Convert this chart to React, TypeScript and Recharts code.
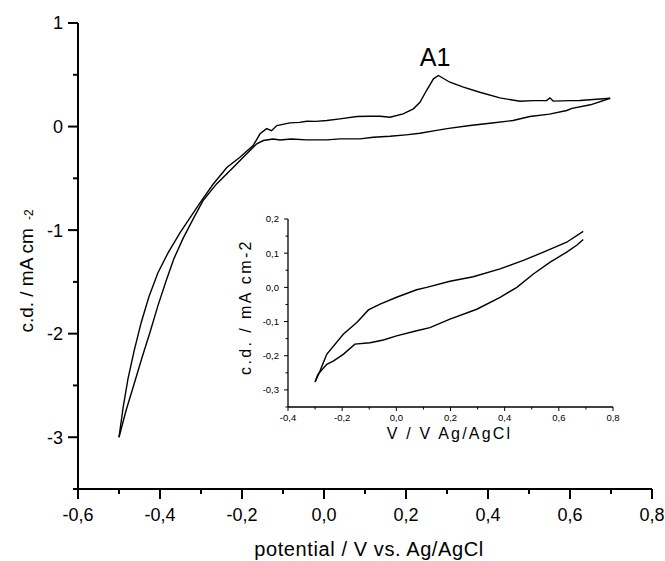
import { LineChart, Line, XAxis, YAxis, Label, ReferenceDot } from "recharts";

const FONT = '"Liberation Sans", Arial, Helvetica, sans-serif';

// main voltammogram, potential (V) vs current density (mA cm-2)
const anodicSweep: [number, number][] = [
  [-0.5, -3.0], [-0.49, -2.715], [-0.478, -2.435], [-0.463, -2.164], [-0.446, -1.894],
  [-0.427, -1.643], [-0.405, -1.411], [-0.38, -1.217], [-0.351, -1.024], [-0.32, -0.841],
  [-0.302, -0.734], [-0.271, -0.56], [-0.237, -0.396], [-0.205, -0.297], [-0.173, -0.184],
  [-0.156, -0.07], [-0.14, -0.02], [-0.128, -0.04], [-0.115, 0.01], [-0.083, 0.036],
  [-0.06, 0.04], [-0.042, 0.051], [-0.02, 0.05], [0.007, 0.058], [0.039, 0.074],
  [0.08, 0.097], [0.11, 0.1], [0.137, 0.1], [0.161, 0.09], [0.193, 0.123],
  [0.218, 0.171], [0.234, 0.235], [0.25, 0.348], [0.267, 0.461], [0.279, 0.493],
  [0.307, 0.428], [0.34, 0.38], [0.38, 0.331], [0.429, 0.277], [0.478, 0.244],
  [0.51, 0.25], [0.543, 0.251], [0.551, 0.277], [0.559, 0.246], [0.6, 0.25],
  [0.624, 0.251], [0.698, 0.273],
];

const cathodicSweep: [number, number][] = [
  [0.698, 0.273], [0.65, 0.21], [0.605, 0.175], [0.592, 0.155], [0.55, 0.12],
  [0.502, 0.097], [0.461, 0.058], [0.41, 0.035], [0.356, 0.01], [0.3, -0.02],
  [0.271, -0.039], [0.234, -0.065], [0.2, -0.08], [0.161, -0.094], [0.12, -0.103],
  [0.088, -0.119], [0.039, -0.119], [0.007, -0.129], [-0.042, -0.129], [-0.08, -0.12],
  [-0.107, -0.13], [-0.124, -0.12], [-0.148, -0.135], [-0.164, -0.167], [-0.189, -0.264],
  [-0.221, -0.393], [-0.262, -0.554], [-0.295, -0.715], [-0.32, -0.899], [-0.344, -1.082],
  [-0.366, -1.275], [-0.385, -1.488], [-0.405, -1.729], [-0.424, -1.981], [-0.444, -2.232],
  [-0.463, -2.483], [-0.483, -2.744], [-0.5, -3.0],
];

// inset voltammogram
const insetAnodic: [number, number][] = [
  [-0.3, -0.277], [-0.282, -0.245], [-0.257, -0.196], [-0.196, -0.137], [-0.146, -0.103],
  [-0.103, -0.066], [-0.06, -0.049], [0.001, -0.029], [0.075, -0.007], [0.112, 0.0],
  [0.198, 0.018], [0.284, 0.031], [0.383, 0.054], [0.469, 0.079], [0.543, 0.103],
  [0.629, 0.132], [0.69, 0.164],
];

const insetCathodic: [number, number][] = [
  [0.69, 0.14], [0.666, 0.123], [0.629, 0.103], [0.568, 0.074], [0.506, 0.039],
  [0.445, 0.0], [0.383, -0.029], [0.297, -0.064], [0.198, -0.093], [0.124, -0.118],
  [0.075, -0.127], [0.001, -0.142], [-0.048, -0.154], [-0.097, -0.162], [-0.153, -0.166],
  [-0.196, -0.196], [-0.233, -0.216], [-0.257, -0.225], [-0.29, -0.255], [-0.3, -0.277],
];

const mainXTicks = [-0.6, -0.5, -0.4, -0.3, -0.2, -0.1, 0, 0.1, 0.2, 0.3, 0.4, 0.5, 0.6, 0.7, 0.8];
const mainYTicks = [-3.5, -3, -2.5, -2, -1.5, -1, -0.5, 0, 0.5, 1];
const insetXTicks = [-0.4, -0.3, -0.2, -0.1, 0, 0.1, 0.2, 0.3, 0.4, 0.5, 0.6, 0.7, 0.8];
const insetYTicks = [-0.35, -0.3, -0.25, -0.2, -0.15, -0.1, -0.05, 0, 0.05, 0.1, 0.15, 0.2];

const peakLabel = { x: 0.271, y: 0.493, text: "A1" };

const toPts = (arr: [number, number][]) => arr.map(([x, y]) => ({ x, y }));

const comma = (v: number) => v.toFixed(1).replace(".", ",");
const evenTenth = (v: number) => Math.abs(Math.round(v * 10)) % 2 === 0;

// ticks: tickSize/tickMargin are 0, so x/y come in at the axis line
function MainXTick(p: any) {
  const v = p.payload.value;
  const major = evenTenth(v);
  return (
    <g>
      <line x1={p.x} y1={p.y} x2={p.x} y2={p.y + (major ? 10 : 5)} stroke="#000" strokeWidth={2} />
      {major && (
        <text x={p.x} y={p.y + 32} textAnchor="middle" fontSize={18} fontFamily={FONT} fill="#000">
          {comma(v)}
        </text>
      )}
    </g>
  );
}

function MainYTick(p: any) {
  const v = p.payload.value;
  const major = Number.isInteger(v);
  return (
    <g>
      <line x1={p.x} y1={p.y} x2={p.x - (major ? 10 : 5)} y2={p.y} stroke="#000" strokeWidth={2} />
      {major && (
        <text x={p.x - 15} y={p.y} dy="0.36em" textAnchor="end" fontSize={18} fontFamily={FONT} fill="#000">
          {String(v)}
        </text>
      )}
    </g>
  );
}

function InsetXTick(p: any) {
  const v = p.payload.value;
  const major = evenTenth(v);
  return (
    <g>
      <line x1={p.x} y1={p.y} x2={p.x} y2={p.y + (major ? 4 : 2.5)} stroke="#000" strokeWidth={1} />
      {major && (
        <text x={p.x} y={p.y + 14} textAnchor="middle" fontSize={9.5} fontFamily={FONT} fill="#000">
          {comma(v)}
        </text>
      )}
    </g>
  );
}

function InsetYTick(p: any) {
  const v = p.payload.value;
  const major = Math.abs(Math.round(v * 100)) % 10 === 0;
  return (
    <g>
      <line x1={p.x} y1={p.y} x2={p.x - (major ? 4 : 2.5)} y2={p.y} stroke="#000" strokeWidth={1} />
      {major && (
        <text x={p.x - 9} y={p.y} dy="0.35em" textAnchor="end" fontSize={9.5} fontFamily={FONT} fill="#000">
          {comma(v)}
        </text>
      )}
    </g>
  );
}

function MainXTitle(props: any) {
  const { x, y, width } = props.viewBox;
  return (
    <text x={x + width / 2 + 4} y={y + 67} textAnchor="middle" fontSize={20} letterSpacing={0.6} fontFamily={FONT} fill="#000">
      potential / V vs. Ag/AgCl
    </text>
  );
}

function MainYTitle(props: any) {
  const { x, y, height } = props.viewBox;
  const cx = x + 33;
  const cy = y + height / 2 + 15;
  return (
    <text x={cx} y={cy} transform={`rotate(-90, ${cx}, ${cy})`} textAnchor="middle" fontSize={19} fontFamily={FONT} fill="#000">
      c.d. / mA cm
      <tspan dx={8} fontSize={12}>-2</tspan>
    </text>
  );
}

function InsetXTitle(props: any) {
  const { x, y, width } = props.viewBox;
  return (
    <text x={x + width / 2 - 1} y={y + 32} textAnchor="middle" fontSize={16} letterSpacing={2.2} fontFamily={FONT} fill="#000">
      V / V Ag/AgCl
    </text>
  );
}

function InsetYTitle(props: any) {
  const { x, y, height } = props.viewBox;
  const cx = x + 21;
  const cy = y + height / 2 - 6;
  return (
    <text x={cx} y={cy} transform={`rotate(-90, ${cx}, ${cy})`} textAnchor="middle" fontSize={16} letterSpacing={2.4} fontFamily={FONT} fill="#000">
      c.d. / mA cm-2
    </text>
  );
}

export default function App() {
  return (
    <div style={{ position: "absolute", left: 0, top: 0, width: 665, height: 561, background: "#fff" }}>
      <div style={{ position: "absolute", left: 0, top: 0 }}>
        <LineChart width={665} height={561} margin={{ top: 23, right: 13, bottom: 0, left: 0 }}>
          <XAxis
            type="number"
            dataKey="x"
            domain={[-0.6, 0.8]}
            ticks={mainXTicks}
            interval={0}
            height={72}
            tickSize={0}
            tickMargin={0}
            tickLine={false}
            axisLine={{ stroke: "#000", strokeWidth: 2 }}
            tick={(p: any) => <MainXTick {...p} />}
          >
            <Label content={MainXTitle} />
          </XAxis>
          <YAxis
            type="number"
            dataKey="y"
            domain={[-3.5, 1]}
            ticks={mainYTicks}
            interval={0}
            width={78}
            tickSize={0}
            tickMargin={0}
            tickLine={false}
            axisLine={{ stroke: "#000", strokeWidth: 2 }}
            tick={(p: any) => <MainYTick {...p} />}
          >
            <Label content={MainYTitle} />
          </YAxis>
          <Line data={toPts(anodicSweep)} dataKey="y" type="linear" stroke="#000" strokeWidth={1.4} dot={false} isAnimationActive={false} />
          <Line data={toPts(cathodicSweep)} dataKey="y" type="linear" stroke="#000" strokeWidth={1.4} dot={false} isAnimationActive={false} />
          <ReferenceDot
            x={peakLabel.x}
            y={peakLabel.y}
            r={0}
            ifOverflow="visible"
            shape={(p: any) => (
              <text x={p.cx} y={p.cy - 10} textAnchor="middle" fontSize={25} fontFamily={FONT} fill="#000">
                {peakLabel.text}
              </text>
            )}
          />
        </LineChart>
      </div>

      <div style={{ position: "absolute", left: 230, top: 200 }}>
        <LineChart width={400} height={250} margin={{ top: 19, right: 17, bottom: 0, left: 0 }}>
          <XAxis
            type="number"
            dataKey="x"
            domain={[-0.4, 0.8]}
            ticks={insetXTicks}
            interval={0}
            height={43}
            tickSize={0}
            tickMargin={0}
            tickLine={false}
            axisLine={{ stroke: "#000", strokeWidth: 1.3 }}
            tick={(p: any) => <InsetXTick {...p} />}
          >
            <Label content={InsetXTitle} />
          </XAxis>
          <YAxis
            type="number"
            dataKey="y"
            domain={[-0.35, 0.2]}
            ticks={insetYTicks}
            interval={0}
            width={58}
            tickSize={0}
            tickMargin={0}
            tickLine={false}
            axisLine={{ stroke: "#000", strokeWidth: 1.3 }}
            tick={(p: any) => <InsetYTick {...p} />}
          >
            <Label content={InsetYTitle} />
          </YAxis>
          <Line data={toPts(insetAnodic)} dataKey="y" type="linear" stroke="#000" strokeWidth={1.4} dot={false} isAnimationActive={false} />
          <Line data={toPts(insetCathodic)} dataKey="y" type="linear" stroke="#000" strokeWidth={1.4} dot={false} isAnimationActive={false} />
        </LineChart>
      </div>
    </div>
  );
}
